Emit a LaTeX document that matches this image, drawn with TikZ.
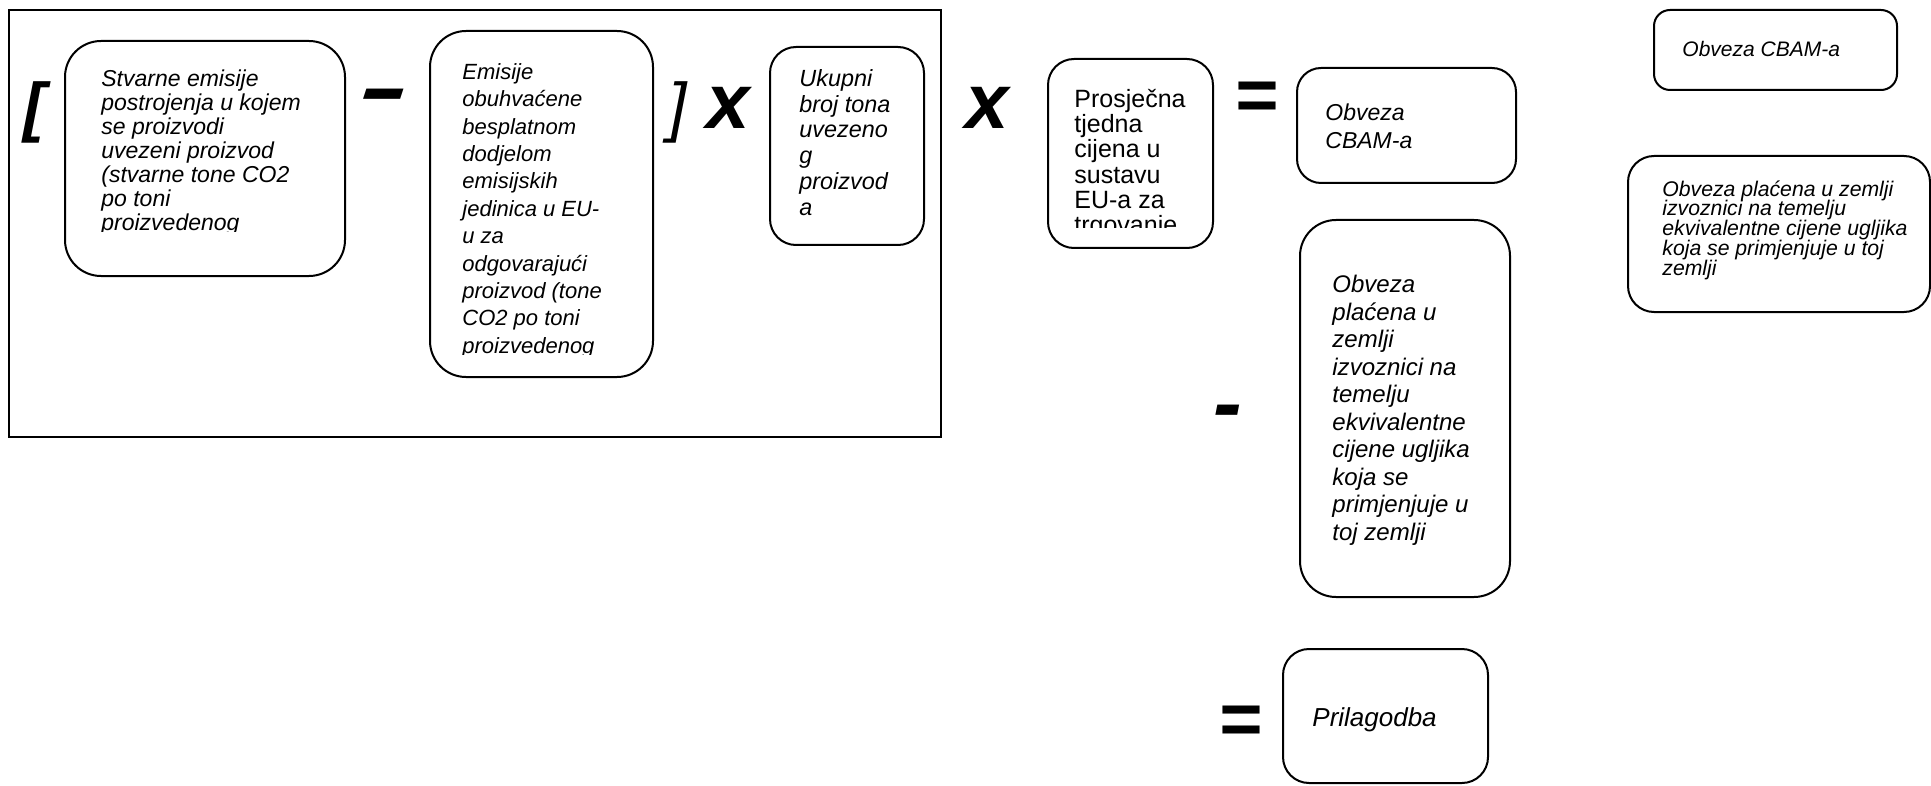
\documentclass[tikz,border=0pt]{standalone}
\usepackage{fontspec}
\usepackage{graphicx}
\setmainfont{Liberation Sans}
\begin{document}
\begin{tikzpicture}[x=0.5pt,y=-0.5pt,
	box/.style={draw,line width=1pt,rounded corners=#1,inner sep=0pt},
	box/.default=12pt,
	txt/.style={anchor=north west,inner sep=0pt,align=left},
	sym/.style={inner sep=0pt,font=\fontsize{#1}{#1}\selectfont\bfseries\itshape},
	sym/.default=30]
	   \useasboundingbox (0,0) rectangle (1931,786);
	   % frame round the bracket part
	   \draw[line width=1pt] (9,10) rectangle (941,437);
	   % boxes
	   \node[box=18pt,minimum width=140pt,minimum height=117.5pt] (stvarne) at (205,158.5) {};
	   \node[box=18pt,minimum width=111.5pt,minimum height=173pt] (besplatne) at (541.5,204) {};
	   \node[box=13pt,minimum width=77pt,minimum height=99pt] (ukupni) at (847,146) {};
	   \node[box=13pt,minimum width=82.5pt,minimum height=94.5pt] (cijena) at (1130.5,153.5) {};
	   \node[box=12pt,minimum width=109.5pt,minimum height=57.5pt] (obveza) at (1406.5,125.5) {};
	   \node[box=18pt,minimum width=105pt,minimum height=188.5pt] (placena) at (1405,408.5) {};
	   \node[box=13pt,minimum width=102.5pt,minimum height=67pt] (prilagodba) at (1385.5,716) {};
	   \node[box=8pt,minimum width=121.5pt,minimum height=40pt] (obvezaR) at (1775.5,50) {};
	   \node[box=13pt,minimum width=151pt,minimum height=78pt] (placenaR) at (1779,234) {};
	   % texts, the cut ones clipped
	   \begin{scope}
	   \clip (65,41) rectangle (345,232);
	   \node[txt,font=\fontsize{11.5}{12}\selectfont\itshape] (stvarnetxt) at (101,69) {Stvarne emisije\\postrojenja u kojem\\se proizvodi\\uvezeni proizvod\\(stvarne tone CO2\\po toni\\proizvedenog};
	   \end{scope}
	   \begin{scope}
	   \clip (430,31) rectangle (653,354);
	   \node[txt,font=\fontsize{11}{13.7}\selectfont\itshape] (besplatnetxt) at (462,63) {Emisije\\obuhvaćene\\besplatnom\\dodjelom\\emisijskih\\jedinica u EU-\\u za\\odgovarajući\\proizvod (tone\\CO2 po toni\\proizvedenog};
	   \end{scope}
	   \node[txt,font=\fontsize{11.7}{12.9}\selectfont\itshape] (ukupnitxt) at (799,69) {Ukupni\\broj tona\\uvezeno\\g\\proizvod\\a};
	   \begin{scope}
	   \clip (1048,59) rectangle (1213,228);
	   \node[txt,font=\fontsize{12.5}{12.6}\selectfont] (cijenatxt) at (1074,89) {Prosječna\\tjedna\\cijena u\\sustavu\\EU-a za\\trgovanje};
	   \end{scope}
	   \node[txt,font=\fontsize{11.5}{14}\selectfont\itshape] (obvezatxt) at (1325,103) {Obveza\\CBAM-a};
	   \node[txt,font=\fontsize{12}{13.75}\selectfont\itshape] (placenatxt) at (1332,275) {Obveza\\plaćena u\\zemlji\\izvoznici na\\temelju\\ekvivalentne\\cijene ugljika\\koja se\\primjenjuje u\\toj zemlji};
	   \node[txt,anchor=west,font=\fontsize{13}{14}\selectfont\itshape] (prilagodbatxt) at (1312,720) {Prilagodba};
	   \node[txt,anchor=west,font=\fontsize{10.5}{12}\selectfont\itshape] (obvezaRtxt) at (1682,49) {Obveza CBAM-a};
	   \node[txt,font=\fontsize{10.6}{9.9}\selectfont\itshape] (placenaRtxt) at (1662,180) {Obveza plaćena u zemlji\\izvoznici na temelju\\ekvivalentne cijene ugljika\\koja se primjenjuje u toj\\zemlji};
	   % operators
	   \node[sym=33] (lbr) at (34,112) {[};
	   \node[sym=43] (minus) at (384,103) {\scalebox{1.7}[1]{-}};
	   \node[sym=33,font=\fontsize{33}{33}\selectfont\itshape] (rbr) at (678,112) {]};
	   \node[sym=39] (puta) at (728,107.5) {x};
	   \node[sym=39] (putaB) at (987,107.5) {x};
	   \node[sym=37] (jednako) at (1256,101) {=};
	   \node[sym=43] (minusB) at (1228,419) {-};
	   \node[sym=37] (jednakoB) at (1240,725) {=};
\end{tikzpicture}
\end{document}
